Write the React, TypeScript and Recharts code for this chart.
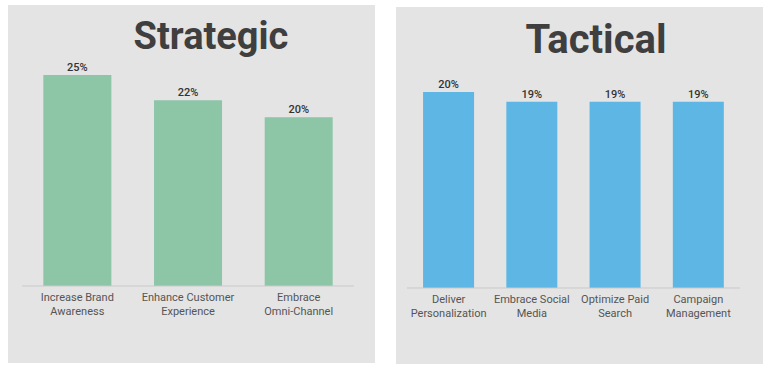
import React from "react";
import { BarChart, Bar, XAxis, YAxis, LabelList } from "recharts";

const strategicCategories = ["Increase Brand|Awareness", "Enhance Customer|Experience", "Embrace|Omni-Channel"];
const strategicValues = [25, 22, 20];
const tacticalCategories = ["Deliver|Personalization", "Embrace Social|Media", "Optimize Paid|Search", "Campaign|Management"];
const tacticalValues = [20, 19, 19, 19];

const strategicData = strategicCategories.map((c, i) => ({ name: c, value: strategicValues[i] }));
const tacticalData = tacticalCategories.map((c, i) => ({ name: c, value: tacticalValues[i] }));

const FONT = "Roboto, 'Noto Sans', sans-serif";

const Tick = (props: any) => {
  const { x, y, payload } = props;
  const lines = String(payload.value).split("|");
  return (
    <text x={x} y={y + 7} textAnchor="middle" fill="#555555" fontSize={11} fontFamily={FONT}>
      {lines.map((l, i) => (
        <tspan key={i} x={x} dy={i === 0 ? 0 : 14}>
          {l}
        </tspan>
      ))}
    </text>
  );
};

const Panel = (props: any) => {
  const { left, top, width, height, title, titleX, titleY, titleSize, data, color, margin, domainMax, xAxisHeight } = props;
  return (
    <div style={{ position: "absolute", left, top, width, height, background: "#e4e4e4" }}>
      <svg width={width} height={70} style={{ position: "absolute", left: 0, top: 0 }}>
        <text x={titleX} y={titleY} textAnchor="middle" fontFamily={FONT} fontWeight={700} fontSize={titleSize} fill="#3f3f3f">
          {title}
        </text>
      </svg>
      <div style={{ position: "absolute", left: 0, top: 0 }}>
        <BarChart width={width} height={height} data={data} margin={margin} barCategoryGap="19.3%">
          <XAxis
            dataKey="name"
            axisLine={{ stroke: "#c9c9c9" }}
            tickLine={false}
            tick={<Tick />}
            interval={0}
            height={xAxisHeight}
          />
          <YAxis hide domain={[0, domainMax]} />
          <Bar dataKey="value" fill={color} isAnimationActive={false}>
            <LabelList
              dataKey="value"
              position="top"
              offset={4}
              formatter={(v: any) => `${v}%`}
              fill="#333333"
              fontSize={11}
              fontWeight={500}
              fontFamily={FONT}
            />
          </Bar>
        </BarChart>
      </div>
    </div>
  );
};

export default function App() {
  return (
    <div style={{ position: "absolute", left: 0, top: 0, width: 768, height: 371, background: "#ffffff", overflow: "hidden" }}>
      <Panel
        left={8}
        top={5}
        width={367}
        height={358}
        title="Strategic"
        titleX={203}
        titleY={44}
        titleSize={38}
        data={strategicData}
        color="#8dc5a7"
        margin={{ top: 70, right: 21, left: 14, bottom: 0 }}
        domainMax={25}
        xAxisHeight={77}
      />
      <Panel
        left={396}
        top={7}
        width={367}
        height={357}
        title="Tactical"
        titleX={200}
        titleY={46}
        titleSize={40}
        data={tacticalData}
        color="#5eb6e4"
        margin={{ top: 85, right: 23, left: 11, bottom: 0 }}
        domainMax={20}
        xAxisHeight={76}
      />
    </div>
  );
}
